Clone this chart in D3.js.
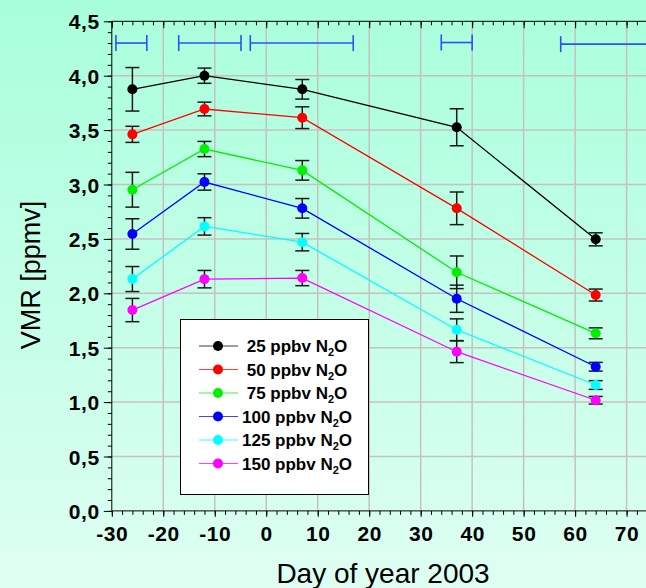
<!DOCTYPE html>
<html>
<head>
<meta charset="utf-8">
<script src="https://cdn.jsdelivr.net/npm/d3@7"></script>
<style>
  html, body { margin: 0; padding: 0; }
  svg { display: block; font-family: "Liberation Sans", Arial, sans-serif; }
</style>
</head>
<body>
<svg id="chart" width="646" height="588"></svg>
<script>
// ---- data ----
const days = [-26, -12, 7, 37, 64];
const seriesLabels = ["25", "50", "75", "100", "125", "150"];
const seriesColors = ["#000000", "#ff0000", "#00f000", "#0000ff", "#00ffff", "#ff00ff"];
const vmr25  = [3.875, 4.00, 3.875, 3.526, 2.496];
const vmr50  = [3.461, 3.694, 3.614, 2.781, 1.984];
const vmr75  = [2.952, 3.326, 3.130, 2.193, 1.632];
const vmr100 = [2.545, 3.023, 2.781, 1.950, 1.325];
const vmr125 = [2.131, 2.615, 2.470, 1.665, 1.157];
const vmr150 = [1.846, 2.130, 2.140, 1.463, 1.017];
const err25  = [0.20, 0.070, 0.090, 0.170, 0.060];
const err50  = [0.074, 0.063, 0.100, 0.150, 0.055];
const err75  = [0.160, 0.070, 0.090, 0.150, 0.050];
const err100 = [0.140, 0.075, 0.090, 0.125, 0.040];
const err125 = [0.115, 0.080, 0.080, 0.100, 0.040];
const err150 = [0.107, 0.080, 0.070, 0.100, 0.035];
// horizontal time-window bars at top
const windowStart = [-29.2, -17.0, -3.1, 34.0, 57.2];
const windowEnd   = [-23.2, -4.9, 16.9, 40.0, 80.0];
const windowLevel = [4.30, 4.30, 4.30, 4.305, 4.29];
const xTicks = [-30, -20, -10, 0, 10, 20, 30, 40, 50, 60, 70];
const yTicks = [0, 0.5, 1.0, 1.5, 2.0, 2.5, 3.0, 3.5, 4.0, 4.5];

const allValues = [vmr25, vmr50, vmr75, vmr100, vmr125, vmr150];
const allErrors = [err25, err50, err75, err100, err125, err150];

// ---- layout ----
const W = 646, H = 588;
const x = d3.scaleLinear().domain([-30, 70]).range([111.8, 626.6]);
const y = d3.scaleLinear().domain([0, 4.5]).range([510.9, 21.3]);
const plotRight = W;

const svg = d3.select("#chart");
const defs = svg.append("defs");
const grad = defs.append("linearGradient").attr("id", "bg").attr("x1", 0).attr("y1", 0).attr("x2", 0).attr("y2", 1);
grad.append("stop").attr("offset", "0%").attr("stop-color", "#a8ffdc");
grad.append("stop").attr("offset", "100%").attr("stop-color", "#defff2");
svg.append("rect").attr("width", W).attr("height", H).attr("fill", "url(#bg)");

// ---- grid ----
const grid = svg.append("g").attr("stroke", "#c8c0c0").attr("stroke-width", 1.5);
xTicks.filter(t => t > -30).forEach(t => {
  grid.append("line").attr("x1", x(t)).attr("x2", x(t)).attr("y1", y(4.5)).attr("y2", y(0));
});
yTicks.filter(t => t > 0 && t < 4.5).forEach(t => {
  grid.append("line").attr("x1", x(-30)).attr("x2", plotRight).attr("y1", y(t)).attr("y2", y(t));
});

// ---- axes ----
const minorX = d3.range(-30, 74, 2);
const minorY = d3.range(0, 4.5001, 0.1);
const axisFont = g => g.selectAll("text")
  .attr("font-size", 21).attr("font-weight", "bold").attr("fill", "#000")
  .attr("font-family", "'Liberation Sans', Arial, sans-serif").style("letter-spacing", "0.6px");

// bottom axis
const xAxisMinor = d3.axisBottom(x).tickValues(minorX).tickSize(4).tickFormat("");
svg.append("g").attr("transform", `translate(0,${y(0)})`).call(xAxisMinor)
  .call(g => g.select(".domain").remove()).selectAll("line").attr("stroke", "#000");
const xAxis = d3.axisBottom(x).tickValues(xTicks).tickSize(6).tickPadding(9).tickFormat(d3.format("d"));
const gx = svg.append("g").attr("transform", `translate(0,${y(0)})`).call(xAxis);
gx.select(".domain").remove();
gx.selectAll("line").attr("stroke", "#000");
gx.call(axisFont);
gx.selectAll("text").text(d => (d < 0 ? "-" + Math.abs(d) : d));
svg.append("line").attr("x1", x(-30)).attr("x2", plotRight).attr("y1", y(0)).attr("y2", y(0)).attr("stroke", "#000");

// top axis (ticks inward)
const topMinor = d3.axisBottom(x).tickValues(minorX).tickSize(4).tickFormat("");
svg.append("g").attr("transform", `translate(0,${y(4.5)})`).call(topMinor)
  .call(g => g.select(".domain").remove()).selectAll("line").attr("stroke", "#000");
const topMajor = d3.axisBottom(x).tickValues(xTicks).tickSize(7).tickFormat("");
svg.append("g").attr("transform", `translate(0,${y(4.5)})`).call(topMajor)
  .call(g => g.select(".domain").remove()).selectAll("line").attr("stroke", "#000");
svg.append("line").attr("x1", x(-30)).attr("x2", plotRight).attr("y1", y(4.5)).attr("y2", y(4.5)).attr("stroke", "#000");

// left axis
const yAxisMinor = d3.axisLeft(y).tickValues(minorY).tickSize(4).tickFormat("");
svg.append("g").attr("transform", `translate(${x(-30)},0)`).call(yAxisMinor)
  .call(g => g.select(".domain").remove()).selectAll("line").attr("stroke", "#000");
const yAxis = d3.axisLeft(y).tickValues(yTicks).tickSize(8).tickPadding(4)
  .tickFormat(d => d3.format(".1f")(d).replace(".", ","));
const gy = svg.append("g").attr("transform", `translate(${x(-30)},0)`).call(yAxis);
gy.select(".domain").remove();
gy.selectAll("line").attr("stroke", "#000");
gy.call(axisFont);
gy.selectAll("text").attr("dy", "0.36em");
svg.append("line").attr("x1", x(-30)).attr("x2", x(-30)).attr("y1", y(4.5)).attr("y2", y(0)).attr("stroke", "#000");

// axis titles
svg.append("text").attr("x", 383).attr("y", 583).attr("text-anchor", "middle")
  .attr("font-size", 28).attr("fill", "#000").text("Day of year 2003");
svg.append("text").attr("transform", "translate(40,275) rotate(-90)").attr("text-anchor", "middle")
  .attr("font-size", 27).attr("fill", "#000").text("VMR [ppmv]");

// ---- time-window bars ----
const wb = svg.append("g").attr("stroke", "#2f4ff2").attr("stroke-width", 1.6).attr("fill", "none");
windowStart.forEach((s, i) => {
  const x1 = x(s), x2 = x(windowEnd[i]), yy = y(windowLevel[i]);
  wb.append("line").attr("x1", x1).attr("x2", x2).attr("y1", yy).attr("y2", yy);
  wb.append("line").attr("x1", x1).attr("x2", x1).attr("y1", yy - 8).attr("y2", yy + 8);
  wb.append("line").attr("x1", x2).attr("x2", x2).attr("y1", yy - 8).attr("y2", yy + 8);
});

// ---- series ----
const line = d3.line().x(d => x(d[0])).y(d => y(d[1]));
allValues.forEach((vals, si) => {
  const pts = days.map((d, i) => [d, vals[i]]);
  svg.append("path").datum(pts).attr("d", line).attr("fill", "none")
    .attr("stroke", seriesColors[si]).attr("stroke-width", 1.3);
});
allValues.forEach((vals, si) => {
  const eg = svg.append("g").attr("stroke", "#1a1a1a").attr("stroke-width", 1.5);
  days.forEach((d, i) => {
    const cx = x(d), lo = y(vals[i] - allErrors[si][i]), hi = y(vals[i] + allErrors[si][i]);
    eg.append("line").attr("x1", cx).attr("x2", cx).attr("y1", lo).attr("y2", hi);
    eg.append("line").attr("x1", cx - 7).attr("x2", cx + 7).attr("y1", lo).attr("y2", lo);
    eg.append("line").attr("x1", cx - 7).attr("x2", cx + 7).attr("y1", hi).attr("y2", hi);
  });
});
allValues.forEach((vals, si) => {
  svg.append("g").selectAll("circle").data(days).join("circle")
    .attr("cx", d => x(d)).attr("cy", (d, i) => y(vals[i])).attr("r", 5)
    .attr("fill", seriesColors[si]);
});

// ---- legend ----
const lg = svg.append("g");
lg.append("rect").attr("x", 180.5).attr("y", 319.5).attr("width", 188).attr("height", 175)
  .attr("fill", "#fff").attr("stroke", "#000").attr("stroke-width", 1);
seriesLabels.forEach((lab, i) => {
  const yy = 346 + i * 23.5;
  lg.append("line").attr("x1", 199).attr("x2", 238).attr("y1", yy).attr("y2", yy)
    .attr("stroke", seriesColors[i]).attr("stroke-width", 1.2).attr("stroke-opacity", 0.75);
  lg.append("circle").attr("cx", 218).attr("cy", yy).attr("r", 5).attr("fill", seriesColors[i]);
  const t = lg.append("text").attr("x", 297).attr("y", yy + 6).attr("text-anchor", "middle")
    .attr("font-size", 17).attr("font-weight", "bold").attr("fill", "#000");
  t.append("tspan").text(lab + " ppbv N");
  t.append("tspan").attr("font-size", 11).attr("dy", 4).text("2");
  t.append("tspan").attr("dy", -4).text("O");
});
</script>
</body>
</html>
